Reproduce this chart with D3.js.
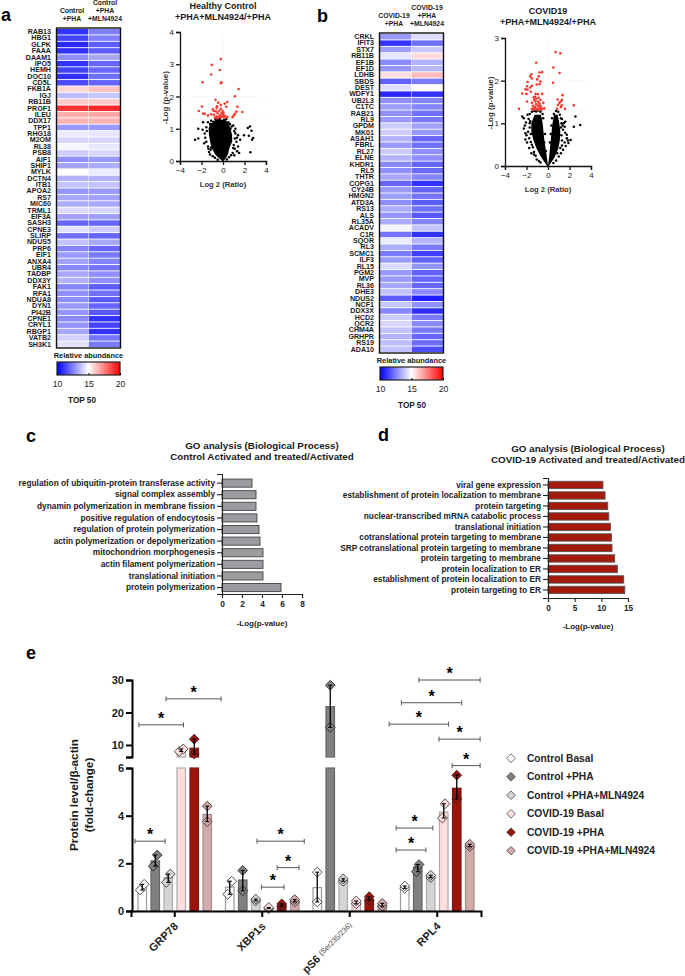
<!DOCTYPE html>
<html><head><meta charset="utf-8">
<script src="https://cdn.jsdelivr.net/npm/d3@7"></script>
<style>
html,body{margin:0;padding:0;background:#fff}
svg{display:block}
text{font-family:"Liberation Sans",Arial,sans-serif;fill:#1a1a1a}
</style></head><body><div id="c"></div>
<script>
// ---------- DATA ----------
const heatAGenes=["RAB13","HBG1","GLPK","FAAA","DAAM1","IPO5","HEMH","DOC10","CD5L","FKB1A","IGJ","RB11B","PROF1","ILEU","DDX17","TPP1","RHG18","M2OM","RL38","PSB8","AIF1","SHIP1","MYLK","DCTN4","ITB1","APOA2","RS7","MIC60","TRML1","EIF3A","SASH3","CPNE3","SLIRP","NDUS5","PRP6","EIF1","ANXA4","UBR4","TADBP","DDX3Y","FAK1","RFA1","NDUA8","DYN1","PI42B","CPNE1","CRYL1","RBGP1","VATB2","SH3K1"];
const heatAPha=[11.0,11.3,10.8,11.0,12.8,11.0,11.3,11.0,11.5,15.8,13.7,16.0,19.0,16.6,16.5,13.0,14.6,14.2,14.8,14.0,12.8,13.2,15.0,13.5,13.8,12.9,13.3,13.4,14.3,13.2,12.0,14.4,12.2,13.8,12.6,13.0,13.2,12.7,13.3,13.5,12.6,12.8,12.8,13.0,12.9,12.7,12.9,13.3,14.1,14.4];
const heatAMln=[12.5,12.5,11.8,11.8,13.3,12.0,12.0,12.2,12.0,16.2,13.9,16.0,19.2,16.7,16.5,13.0,14.5,14.2,14.5,14.2,13.0,13.4,14.6,13.5,13.8,13.0,13.2,13.3,14.2,13.1,12.0,14.0,12.0,13.3,12.0,12.4,12.6,12.3,12.8,12.8,11.8,12.2,11.8,12.0,11.7,11.0,11.3,11.0,12.3,12.4];
const heatBGenes=["CRKL","IFIT3","STX7","RB11B","EF1B","EF1D","LDHB","SBDS","DEST","WDFY1","UB2L3","C1TC","RAB21","RL9","GPDM","MK01","ASAH1","FBRL","RL27","ELNE","KHDR1","RL5","THTR","COPG1","CY24B","HMGN2","ATD3A","RS13","ALS","RL35A","ACADV","C1R","SQOR","RL3","SCMC1","ILF3","RL15","PGM2","MVP","RL36","DHE3","NDUS2","NCF1","DDX3X","HCD2","QCR2","CHM4A","GRHPR","RS19","ADA10"];
const heatBPha=[13.0,11.0,13.1,14.5,12.7,12.9,15.6,11.9,14.4,10.8,12.8,13.1,12.8,13.0,14.0,14.0,13.5,13.0,14.0,13.5,12.7,12.8,13.3,12.0,13.0,13.1,12.8,13.4,12.9,13.4,14.8,12.3,14.6,13.4,12.4,13.0,14.3,13.0,13.0,13.3,13.8,11.8,13.9,12.6,14.0,14.2,13.8,13.5,13.7,13.8];
const heatBMln=[14.3,12.2,13.9,15.7,13.5,13.6,16.3,12.4,15.0,11.0,12.6,12.6,12.2,12.4,13.2,13.0,12.0,12.2,12.8,12.8,12.0,12.1,12.6,11.0,12.0,12.3,11.8,12.2,11.7,12.6,13.8,11.0,13.5,12.4,11.2,11.9,12.9,11.9,12.0,12.0,12.7,10.6,12.8,10.9,12.4,12.7,12.4,12.0,12.1,11.5];

// volcano a: significant points, [log2 ratio, -log p]
const volARed=[[-.2,3.16],[-1.05,2.98],[-.3,2.82],[-1.1,2.68],[-1.9,2.44],[-.15,2.44],[-.2,2.41],[1.45,2.23],[1.1,2.01],[-.7,1.9],[.4,1.83],[-.45,1.81],[-.2,1.74],[.15,1.78],[-1.95,1.69],[1.35,1.68],[-2.25,1.55],[1.8,1.52],[1.25,1.53],[-.95,1.6],[-.6,1.64],[-.2,1.62],[.3,1.68],[-1.7,1.46],[-1.85,1.47],[-1.4,1.41],[-1.1,1.45],[-.85,1.43],[-.65,1.54],[-.5,1.48],[-.35,1.56],[-.15,1.48],[0,1.43],[.2,1.4],[.4,1.36],[.9,1.36],[1.1,1.46],[1.0,1.41],[-.6,1.38],[-.42,1.36],[-.3,1.42],[-.22,1.36],[-.08,1.38],[.08,1.35],[-.75,1.34],[-.5,1.33],[-.55,1.7],[-.85,1.55],[-.05,1.55],[.05,1.5]];
// volcano a: dense core (y level, left edge, right edge)
const volACoreY=[0,.1,.2,.4,.6,.8,1,1.15,1.27];
const volACoreL=[-.06,-.42,-.72,-1.05,-1.2,-1.3,-1.35,-1.2,-.7];
const volACoreR=[.06,.28,.46,.6,.85,.85,.7,.55,.25];
// volcano a: separately visible points around the core
const volABlack=[[-2.6,.66],[-2.3,.7],[-2.3,1.0],[-1.9,.97],[-1.85,1.2],[2.3,1.02],[2.5,1.07],[2.65,.94],[1.95,.8],[2.4,.78],[2.8,.71],[2.7,.66],[2.55,.27],[1.6,.66],[1.4,.45],[1.3,.3],[.8,1.07],[-1.55,.6],[-1.4,.45],[-1.2,.2],[-1.7,.85],[-1.55,1.05],[-1.4,1.2],[-1.1,1.25],[-1.2,1.15],[-1.65,.72],[-1.5,.93],[-1.35,.38],[-1.15,.35],[-.95,.15],[-.75,.1],[-1.3,.28],[-1.1,.42],[-.7,1.3],[-.5,1.28],[-.3,1.3],[-.15,1.25],[.1,1.27],[.3,1.3],[.5,1.2],[.65,1.15],[.95,1.1],[1.05,.92],[1.15,.85],[1.3,.72],[1.25,.6],[1.1,.7],[1.4,.8],[1.0,.5],[1.1,.38],[.9,.25],[.75,.18],[.55,.12],[.95,.4],[1.5,.25],[1.05,.18],[-.5,.04],[.35,.05],[-1.75,.55],[-.9,1.22],[.7,1.0],[1.15,1.0]];

const volBRed=[[.7,2.67],[1.15,2.64],[-1.1,2.42],[.5,2.31],[1.08,2.18],[-.55,2.2],[-.8,2.19],[-1.55,2.15],[-1.65,2.1],[-1.5,2.05],[-.87,2.1],[-1,2.03],[-1.9,1.97],[.47,1.95],[-.7,1.98],[-1.5,1.88],[-1.65,1.84],[-1.95,1.87],[-1.05,1.91],[-.78,1.92],[-2.1,1.8],[-1.9,1.79],[-2.4,1.7],[-2,1.69],[-1.6,1.74],[-1.15,1.69],[-.95,1.68],[-.55,1.69],[1.35,1.66],[-1.33,1.61],[-1.1,1.58],[-.87,1.6],[.9,1.56],[1.3,1.55],[-1.95,1.51],[-1.5,1.48],[-1.18,1.51],[-.93,1.51],[-.43,1.48],[1.05,1.48],[1.2,1.51],[2.4,1.42],[.93,1.43],[1.27,1.42],[-1.4,1.41],[-1.18,1.39],[-.93,1.41],[-.65,1.39],[-2.7,1.34],[-1.5,1.34],[-1.27,1.35],[-1,1.34],[-.78,1.35],[-.53,1.34],[-.34,1.35],[.84,1.34],[1.2,1.38],[1.58,1.34],[-1.1,1.45],[-.8,1.47],[-1.3,1.55],[-.7,1.55],[-1.2,1.62],[-.75,1.42],[-1.35,1.32],[-1.15,1.33],[-.9,1.32],[-.62,1.32]];
const volBLeftY=[0,.2,.4,.6,.8,1.0,1.2];
const volBLeftL=[-.08,-.62,-1.05,-1.35,-1.55,-1.55,-1.25];
const volBLeftR=[0,-.1,-.22,-.33,-.42,-.5,-.65];
const volBRightY=[0,.2,.4,.6,.8,1.0,1.2];
const volBRightL=[0,.1,.18,.25,.33,.42,.55];
const volBRightR=[.08,.6,.95,1.1,1.15,1.05,.9];
const volBBlack=[[-2.4,1.16],[-2.25,1.12],[-1.9,1.2],[2.55,1.16],[3.0,.96],[2.4,.92],[-2.25,.88],[-2.1,.77],[2.1,.61],[1.75,.73],[1.45,1.0],[1.6,1.04],[1.9,.54],[1.55,.92],[-1.7,1.22],[-1.5,1.27],[-1.3,1.29],[-1.1,1.28],[-.9,1.3],[-.7,1.27],[-.5,1.22],[-1.8,1.1],[-2.05,1.02],[-2.15,.95],[-2.1,.62],[-1.95,.55],[-1.75,.42],[-1.55,.3],[-1.3,.27],[-1.05,.15],[-.7,.08],[-.35,.55],[-.28,.75],[-.45,1.12],[-.2,.35],[.18,.55],[.25,.75],[.32,.95],[.38,1.12],[.55,1.22],[.75,1.29],[.95,1.27],[1.1,1.2],[1.2,1.12],[1.3,1.1],[1.4,.85],[1.6,.78],[1.75,.65],[1.55,.55],[1.85,.6],[1.4,.38],[1.2,.3],[1.0,.22],[.75,.13],[.5,.07],[1.65,.47],[-2.0,.72],[-1.6,.56],[-1.4,.44],[-1.15,.24],[1.3,.48],[-1.65,1.05],[-1.7,.9],[-1.85,.8],[-1.75,.65],[-1.6,.75],[-1.7,1.0],[-1.5,.5],[-1.3,.33],[-.85,.12],[1.25,.72],[1.3,.6],[1.2,.9],[1.25,1.0],[1.15,.42],[.85,.3],[1.35,.95]];

const goCTerms=["regulation of ubiquitin-protein transferase activity","signal complex assembly","dynamin polymerization in membrane fission","positive regulation of endocytosis","regulation of protein polymerization","actin polymerization or depolymerization","mitochondrion morphogenesis","actin filament polymerization","translational initiation","protein polymerization"];
const goCValues=[3.0,3.4,3.4,3.5,3.7,3.8,4.1,4.1,4.1,5.9];
const goDTerms=["viral gene expression","establishment of protein localization to membrane","protein targeting","nuclear-transcribed mRNA catabolic process","translational initiation","cotranslational protein targeting to membrane","SRP cotranslational protein targeting to membrane","protein targeting to membrane","protein localization to ER","establishment of protein localization to ER","protein targeting to ER"];
const goDValues=[10.3,10.7,11.2,11.4,11.7,11.9,12.0,12.5,13.0,14.2,14.4];

const proteins=["GRP78","XBP1s","pS6","RPL4"];
const seriesNames=["Control Basal","Control +PHA","Control +PHA+MLN4924","COVID-19 Basal","COVID-19 +PHA","COVID-19 +PHA+MLN4924"];
const means=[[1.0,2.1,1.4,8.5,9.0,4.05],[1.0,1.3,.45,.13,.25,.42],[.98,21.8,1.3,.35,.5,.25],[1.0,1.85,1.45,4.15,5.15,2.75]];
const lowPts=[[.88,1.88,1.2,8.0,7.2,3.75],[.7,.85,.42,.1,.2,.38],[.38,15.4,1.25,.3,.45,.2],[.95,1.65,1.4,3.9,4.7,2.7]];
const highPts=[[1.12,2.35,1.55,8.8,11.8,4.4],[1.25,1.7,.5,.15,.3,.48],[1.63,28.4,1.35,.42,.6,.32],[1.05,1.95,1.5,4.5,5.7,2.8]];
const seriesFill=["#ffffff","#808080","#d4d4d4","#ffdede","#9c1409","#d4aaa8"];
const seriesStroke=["#9a9a9a","#666666","#aaaaaa","#aaaaaa","#7a1a12","#999090"];
// significance brackets: [start, end on the group axis (group units), y value]
const brStart=[.045,.09,.40,1.44,1.67,1.49,3.29,3.09,2.95,3.52,3.67,3.03,3.03];
const brEnd=[.39,.6,1.03,1.98,1.92,1.75,3.99,3.78,3.63,3.99,3.99,3.45,3.37];
const brY=[2.93,16.2,24.2,2.93,1.82,1.0,30,23,16.4,11.8,6.1,3.48,2.56];

// ---------- SET-UP ----------
const W=685,H=976;
const svg=d3.select("#c").append("svg").attr("width",W).attr("height",H);
function letter(t,x,y){svg.append("text").attr("x",x).attr("y",y).attr("font-size",18).attr("font-weight",700).style("fill","#000").text(t);}
letter("a",1,21);letter("b",317,22);letter("c",26,442);letter("d",378,441);letter("e",26,659);

const heatColor=d3.scaleLinear().domain([10,15,20]).range(["#0000ff","#ffffff","#ff0000"]);
function multi(x,ys,lines,size,anchor="middle",weight=700){
  lines.forEach((l,i)=>svg.append("text").attr("x",x).attr("y",ys[i]).attr("text-anchor",anchor).attr("font-size",size).attr("font-weight",weight).text(l));
}
// ---------- HEATMAPS ----------
function heatmap(o){
  const g=svg.append("g");
  const y=d3.scaleBand().domain(o.genes).range([o.y0,o.y1]).paddingInner(.14);
  const x=d3.scaleBand().domain([0,1]).range([o.x0,o.x1]).paddingInner(.015);
  [o.v1,o.v2].forEach((vals,c)=>{
    g.selectAll(null).data(vals).join("rect").attr("x",x(c)).attr("width",x.bandwidth())
     .attr("y",(d,i)=>y(o.genes[i])).attr("height",y.bandwidth()).attr("fill",d=>heatColor(d));
  });
  g.append("rect").attr("x",o.x0-.5).attr("y",o.y0-1).attr("width",o.x1-o.x0+1).attr("height",o.y1-o.y0+2).attr("fill","none").attr("stroke","#111").attr("stroke-width",1.4);
  const ax=g.append("g").attr("transform",`translate(${o.x0},0)`).call(d3.axisLeft(y).tickSize(0).tickPadding(o.pad));
  ax.select(".domain").remove();
  ax.selectAll("text").attr("font-size",7.1).attr("font-weight",700).attr("font-family","Liberation Sans").style("fill","#1a1a1a");
  // colour bar
  const defs=svg.append("defs");
  const gr=defs.append("linearGradient").attr("id",o.id);
  d3.range(0,11).forEach(i=>gr.append("stop").attr("offset",i*10+"%").attr("stop-color",heatColor(10+i)));
  g.append("rect").attr("x",o.x0).attr("y",o.barY).attr("width",o.x1-o.x0).attr("height",13).attr("fill",`url(#${o.id})`).attr("stroke","#222").attr("stroke-width",1.2);
  const cx=d3.scaleLinear().domain([10,20]).range([o.x0,o.x1]);
  const cax=g.append("g").attr("transform",`translate(0,${o.barY+13})`).call(d3.axisBottom(cx).tickValues([10,15,20]).tickSize(-2).tickPadding(6));
  cax.select(".domain").remove();
  cax.selectAll("text").attr("font-size",8.7).attr("font-family","Liberation Sans").style("fill","#222");
  svg.append("text").attr("x",(o.x0+o.x1)/2).attr("y",o.barY-4).attr("text-anchor","middle").attr("font-size",7.4).attr("font-weight",700).text("Relative abundance");
  svg.append("text").attr("x",o.topX).attr("y",o.barY+41).attr("text-anchor","middle").attr("font-size",8.2).attr("font-weight",700).text("TOP 50");
}
heatmap({id:"ga",genes:heatAGenes,v1:heatAPha,v2:heatAMln,x0:57,x1:120,y0:29,y1:347,pad:6,barY:362,topX:82});
heatmap({id:"gb",genes:heatBGenes,v1:heatBPha,v2:heatBMln,x0:380,x1:443,y0:34,y1:352,pad:6,barY:367,topX:412});
multi(72,[13,21],["Control","+PHA"],6.8);
multi(105,[5,13,21],["Control","+PHA","+MLN4924"],6.8);
multi(394,[18,26],["COVID-19","+PHA"],6.8);
multi(427,[10,18,26],["COVID-19","+PHA","+MLN4924"],6.8);

// ---------- VOLCANOES ----------
function volcano(o){
  const x=d3.scaleLinear().domain([-4,4]).range([o.x0,o.x1]);
  const y=d3.scaleLinear().domain([0,o.ymax]).range([o.y0,o.y1]);
  const g=svg.append("g");
  [2,1.3].forEach(v=>g.append("line").attr("x1",x(-4)).attr("x2",x(4)).attr("y1",y(v)).attr("y2",y(v)).attr("stroke","#ddd").attr("stroke-width",.6).attr("stroke-dasharray","1 2"));
  g.append("line").attr("x1",x(0)).attr("x2",x(0)).attr("y1",y(0)).attr("y2",y(o.ymax)).attr("stroke","#ddd").attr("stroke-width",.6).attr("stroke-dasharray","1 2");
  o.cores.forEach(c=>{
    const area=d3.area().curve(d3.curveLinear).y((d,i)=>y(c.y[i])).x0((d,i)=>x(c.l[i])).x1((d,i)=>x(c.r[i]));
    g.append("path").attr("d",area(c.y)).attr("fill","#000");
  });
  g.selectAll(null).data(o.black).join("circle").attr("cx",d=>x(d[0])).attr("cy",d=>y(d[1])).attr("r",1.25).attr("fill","#000");
  g.selectAll(null).data(o.red).join("circle").attr("cx",d=>x(d[0])).attr("cy",d=>y(d[1])).attr("r",1.3).attr("fill","#f5382c");
  const ax=g.append("g").attr("transform",`translate(0,${o.y0})`).call(d3.axisBottom(x).tickValues([-4,-2,0,2,4]).tickSize(4).tickPadding(2).tickFormat(d3.format("d")));
  const ay=g.append("g").attr("transform",`translate(${o.x0},0)`).call(d3.axisLeft(y).ticks(o.ymax).tickSize(4).tickPadding(2));
  [ax,ay].forEach(a=>{a.selectAll("path,line").attr("stroke","#111").attr("stroke-width",1.3);
    a.selectAll("text").attr("font-size",8).attr("font-family","Liberation Sans").style("fill","#222");});
  svg.append("text").attr("x",(o.x0+o.x1)/2).attr("y",o.y0+26).attr("text-anchor","middle").attr("font-size",7.6).attr("font-weight",700).style("fill","#333").text("Log 2 (Ratio)");
  svg.append("text").attr("transform",`translate(${o.x0-12},${(o.y0+o.y1)/2+(o.ylShift||0)}) rotate(-90)`).attr("text-anchor","middle").attr("font-size",8).attr("font-weight",700).style("fill","#333").text("-Log (p-value)");
}
volcano({x0:180,x1:266,y0:161,y1:32,ymax:4,red:volARed,black:volABlack,ylShift:1,cores:[{y:volACoreY,l:volACoreL,r:volACoreR}]});
volcano({x0:505,x1:591,y0:166,y1:38,ymax:3,red:volBRed,black:volBBlack,ylShift:1,cores:[{y:volBLeftY,l:volBLeftL,r:volBLeftR},{y:volBRightY,l:volBRightL,r:volBRightR}]});
multi(223,[9,20],["Healthy Control","+PHA+MLN4924/+PHA"],9);
multi(548,[14,25],["COVID19","+PHA+MLN4924/+PHA"],9);

// ---------- GO BARS ----------
function goBars(o){
  const y=d3.scaleBand().domain(o.terms).range([o.y0,o.y1]).paddingInner(.3).paddingOuter(o.po).align(o.al);
  const x=d3.scaleLinear().domain([0,o.max]).range([o.x0,o.x1]);
  const g=svg.append("g");
  g.selectAll(null).data(o.values).join("rect").attr("x",x(0)).attr("y",(d,i)=>y(o.terms[i])).attr("width",d=>x(d)-x(0)).attr("height",y.bandwidth()).attr("fill",o.fill).attr("stroke",o.stroke).attr("stroke-width",.9);
  const ay=g.append("g").attr("transform",`translate(${o.x0},0)`).call(d3.axisLeft(y).tickSize(5).tickPadding(2));
  const ax=g.append("g").attr("transform",`translate(0,${o.y1})`).call(d3.axisBottom(x).tickValues(o.ticks).tickSize(4).tickPadding(3));
  [ax,ay].forEach(a=>{a.selectAll("path,line").attr("stroke","#222").attr("stroke-width",1.1);
    a.selectAll("text").attr("font-size",8.3).attr("font-weight",700).attr("font-family","Liberation Sans").style("fill","#222");});
  svg.append("text").attr("x",o.labX).attr("y",o.labY).attr("text-anchor","middle").attr("font-size",8).attr("font-weight",700).style("fill","#222").text("-Log(p-value)");
}
goBars({terms:goCTerms,values:goCValues,x0:222,x1:302,y0:474,y1:594,po:.32,al:.68,max:8,ticks:[0,2,4,6,8],fill:"#9c9ca0",stroke:"#444",labX:262,labY:626});
goBars({terms:goDTerms,values:goDValues,x0:548,x1:628,y0:478,y1:598,po:.365,al:.43,max:15,ticks:[0,5,10,15],fill:"#a5180c",stroke:"#555",labX:588,labY:629});
multi(262,[448.5,459.5],["GO analysis (Biological Process)","Control Activated and treated/Activated"],9.8);
multi(588,[451.5,462.5],["GO analysis (Biological Process)","COVID-19 Activated and treated/Activated"],9.8);

// ---------- PANEL E ----------
const lower=d3.scaleLinear().domain([0,6]).range([911,768]);
const upper=d3.scaleLinear().domain([6.3,30]).range([757,680]);
const yBreak=v=>v<=6.15?lower(v):upper(v);
const gx=d3.scaleBand().domain(proteins).range([131,481]);
const inner=d3.scaleBand().domain(d3.range(6)).range([-39,39]);
const xUnits=d3.scaleLinear().domain([0,4]).range([131,481]);
const barW=8.5;
const ptSpread=[[2,2,2,2,0,0],[2,0,0,0,0,0],[0,0,0,0,0,0],[0,1.3,0,1.3,0,0]];
const ge=svg.append("g");
means.forEach((row,gi)=>{
  const c=gx(proteins[gi])+gx.bandwidth()/2;
  row.forEach((m,si)=>{
    const bx=c+inner(si)+inner.bandwidth()/2;
    const st={fill:seriesFill[si],stroke:seriesStroke[si]};
    const seg=(a,b)=>ge.append("rect").attr("x",bx-barW/2).attr("width",barW).attr("y",yBreak(b)).attr("height",yBreak(a)-yBreak(b)).attr("fill",st.fill).attr("stroke",st.stroke).attr("stroke-width",1.2);
    if(m>6){seg(0,6);seg(6.3,m);} else seg(0,m);
  });
  row.forEach((m,si)=>{
    const bx=c+inner(si)+inner.bandwidth()/2;
    const sym=d3.symbol().type(d3.symbolSquare).size(48);
    [lowPts[gi][si],highPts[gi][si]].forEach((v,k)=>{
      ge.append("path").attr("d",sym()).attr("transform",`translate(${bx+(k?1:-1)*ptSpread[gi][si]},${yBreak(v)}) rotate(45)`).attr("fill",seriesFill[si]).attr("stroke",si===1||si===4?"#222":"#333").attr("stroke-width",.8);
    });
    const lo=yBreak(lowPts[gi][si]),hi=yBreak(highPts[gi][si]);
    ge.append("line").attr("x1",bx).attr("x2",bx).attr("y1",lo).attr("y2",hi).attr("stroke","#000").attr("stroke-width",1.3);
    [lo,hi].forEach(p=>ge.append("line").attr("x1",bx-2).attr("x2",bx+2).attr("y1",p).attr("y2",p).attr("stroke","#000").attr("stroke-width",1.1));
  });
});
const axL=ge.append("g").attr("transform","translate(132,0)").call(d3.axisLeft(lower).tickValues([0,2,4,6]).tickFormat(d3.format("d")).tickSize(6).tickPadding(2));
const axU=ge.append("g").attr("transform","translate(132,0)").call(d3.axisLeft(upper).tickValues([6.3,10,20,30]).tickSize(6).tickPadding(2).tickFormat(d=>d===6.3?"":d));
const axX=ge.append("g").attr("transform","translate(0,911)").call(d3.axisBottom(gx).tickSize(6).tickPadding(3));
[axL,axU,axX].forEach(a=>{a.selectAll("path,line").attr("stroke","#000").attr("stroke-width",2);
  a.selectAll("text").attr("font-size",11).attr("font-weight",700).attr("font-family","Liberation Sans").style("fill","#222");});
axX.selectAll(".tick text").attr("text-anchor","end").attr("dy",0).attr("y",0).attr("x",0).attr("transform","translate(4,16) rotate(-45)");
axX.selectAll(".tick text").filter(d=>d==="pS6").each(function(){
  const t=d3.select(this);t.text("");
  t.append("tspan").text("pS6 ");
  t.append("tspan").attr("font-size",7.4).attr("font-weight",400).attr("dy",-2).style("fill","#444").text("(Ser235/236)");
});
brStart.forEach((s,i)=>{
  const x1=xUnits(s),x2=xUnits(brEnd[i]),yb=yBreak(brY[i]);
  ge.append("line").attr("x1",x1).attr("x2",x2).attr("y1",yb).attr("y2",yb).attr("stroke","#555").attr("stroke-width",1);
  [x1,x2].forEach(p=>ge.append("line").attr("x1",p).attr("x2",p).attr("y1",yb-2.5).attr("y2",yb+2.5).attr("stroke","#555").attr("stroke-width",1));
  ge.append("text").attr("x",(x1+x2)/2).attr("y",yb-1).attr("text-anchor","middle").attr("font-size",16).attr("font-weight",700).style("fill","#000").text("*");
});
svg.append("text").attr("transform","translate(78,795) rotate(-90)").attr("text-anchor","middle").attr("font-size",11.8).attr("font-weight",700).text("Protein level/β-actin");
svg.append("text").attr("transform","translate(93,795) rotate(-90)").attr("text-anchor","middle").attr("font-size",11.8).attr("font-weight",700).text("(fold-change)");

const legend=d3.scaleBand().domain(seriesNames).range([749,860]);
seriesNames.forEach((n,i)=>{
  const ly=legend(n)+legend.bandwidth()/2;
  svg.append("path").attr("d",d3.symbol().type(d3.symbolSquare).size(38)()).attr("transform",`translate(511,${ly}) rotate(45)`).attr("fill",seriesFill[i]).attr("stroke",i===1||i===4?"#444":"#555").attr("stroke-width",.8);
  svg.append("text").attr("x",527).attr("y",ly+3.5).attr("font-size",10.2).attr("font-weight",700).style("fill","#222").text(n);
});
</script></body></html>
